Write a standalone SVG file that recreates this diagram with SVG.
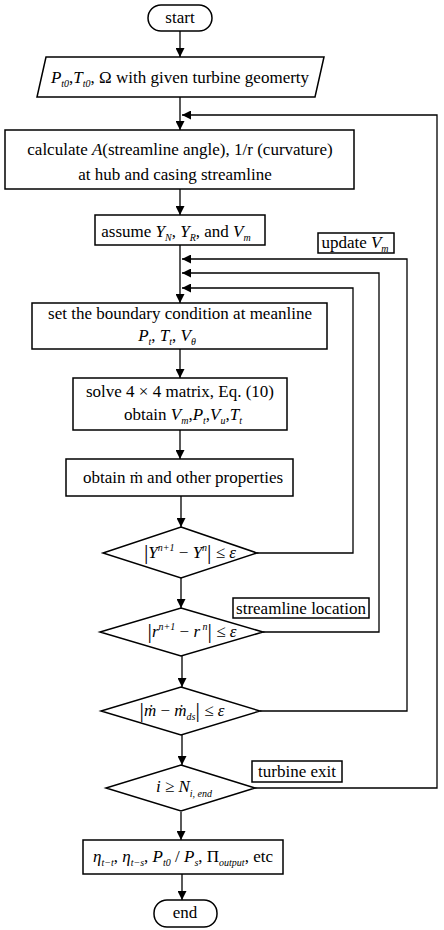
<svg xmlns="http://www.w3.org/2000/svg" width="444" height="930" viewBox="0 0 444 930">
<style>
  .box{fill:#fff;stroke:#000;stroke-width:1.5}
  .lbl{fill:#000;stroke:none;stroke-width:1.3}
  text{font-family:"Liberation Serif","Times New Roman",serif;font-size:17px;fill:#000}
  .m{text-anchor:middle}
  .i{font-style:italic}
  .s{font-size:10px;font-style:italic}
  .bar{font-size:22px}
  .con{fill:none;stroke:#000;stroke-width:1.3}
</style>
<defs>
  <marker id="ah" viewBox="0 0 10 10" refX="10" refY="5" markerWidth="9" markerHeight="9" markerUnits="userSpaceOnUse" orient="auto">
    <path d="M0,0 L10,5 L0,10 z" fill="#000"/>
  </marker>
</defs>
<rect width="444" height="930" fill="#fff"/>

<g id="connectors">
  <line class="con" x1="180" y1="31" x2="180" y2="57" marker-end="url(#ah)"/>
  <line class="con" x1="180" y1="97" x2="180" y2="130" marker-end="url(#ah)"/>
  <line class="con" x1="180" y1="189" x2="180" y2="215" marker-end="url(#ah)"/>
  <line class="con" x1="180" y1="245" x2="180" y2="303" marker-end="url(#ah)"/>
  <line class="con" x1="180" y1="349" x2="180" y2="378" marker-end="url(#ah)"/>
  <line class="con" x1="180" y1="430" x2="180" y2="459" marker-end="url(#ah)"/>
  <line class="con" x1="181" y1="496" x2="181" y2="527" marker-end="url(#ah)"/>
  <line class="con" x1="181" y1="578" x2="181" y2="608" marker-end="url(#ah)"/>
  <line class="con" x1="182" y1="656" x2="182" y2="687" marker-end="url(#ah)"/>
  <line class="con" x1="182" y1="735" x2="182" y2="765" marker-end="url(#ah)"/>
  <line class="con" x1="181" y1="812" x2="181" y2="840" marker-end="url(#ah)"/>
  <line class="con" x1="182" y1="874" x2="182" y2="900" marker-end="url(#ah)"/>
  <polyline class="con" points="257,553 353,553 353,288 182,288" marker-end="url(#ah)"/>
  <polyline class="con" points="263,632 379,632 379,273 182,273" marker-end="url(#ah)"/>
  <polyline class="con" points="260,711 407,711 407,259 182,259" marker-end="url(#ah)"/>
  <polyline class="con" points="255,788 437,788 437,115 182,115" marker-end="url(#ah)"/>
</g>

<g id="start">
  <rect class="box" x="148" y="5" width="64" height="26" rx="13"/>
  <text class="m" x="180" y="23">start</text>
</g>

<g id="input">
  <polygon class="box" points="46,57 324,57 315,97 37,97"/>
  <text class="m" x="180" y="83"><tspan class="i">P</tspan><tspan class="s" dy="4">t0</tspan><tspan dy="-4">,</tspan><tspan class="i">T</tspan><tspan class="s" dy="4">t0</tspan><tspan dy="-4">, Ω with given turbine geomerty</tspan></text>
</g>

<g id="calc">
  <rect class="box" x="5" y="130" width="349" height="59"/>
  <text class="m" x="180" y="155">calculate <tspan class="i">A</tspan>(streamline angle), 1/r (curvature)</text>
  <text class="m" x="175" y="180">at hub and casing streamline</text>
</g>

<g id="assume">
  <rect class="box" x="95" y="215" width="170" height="30"/>
  <text class="m" x="176" y="237">assume <tspan class="i">Y</tspan><tspan class="s" dy="4">N</tspan><tspan dy="-4">, </tspan><tspan class="i">Y</tspan><tspan class="s" dy="4">R</tspan><tspan dy="-4">, and </tspan><tspan class="i">V</tspan><tspan class="s" dy="4">m</tspan></text>
</g>

<g id="update">
  <rect class="box" x="318" y="233" width="76" height="20"/>
  <text class="m" x="355" y="248">update <tspan class="i">V</tspan><tspan class="s" dy="4">m</tspan></text>
</g>

<g id="boundary">
  <rect class="box" x="32" y="303" width="295" height="46"/>
  <text class="m" x="180" y="319">set the boundary condition at meanline</text>
  <text class="m" x="167" y="341"><tspan class="i">P</tspan><tspan class="s" dy="4">t</tspan><tspan dy="-4">, </tspan><tspan class="i">T</tspan><tspan class="s" dy="4">t</tspan><tspan dy="-4">, </tspan><tspan class="i">V</tspan><tspan class="s" dy="4">θ</tspan></text>
</g>

<g id="solve">
  <rect class="box" x="73" y="378" width="214" height="52"/>
  <text class="m" x="180" y="397">solve 4 × 4 matrix, Eq. (10)</text>
  <text class="m" x="183" y="420">obtain <tspan class="i">V</tspan><tspan class="s" dy="4">m</tspan><tspan dy="-4">,</tspan><tspan class="i">P</tspan><tspan class="s" dy="4">t</tspan><tspan dy="-4">,</tspan><tspan class="i">V</tspan><tspan class="s" dy="4">u</tspan><tspan dy="-4">,</tspan><tspan class="i">T</tspan><tspan class="s" dy="4">t</tspan></text>
</g>

<g id="obtain">
  <rect class="box" x="66" y="459" width="227" height="37"/>
  <text class="m" x="183" y="483">obtain ṁ and other properties</text>
</g>

<g id="check-y">
  <polygon class="box" points="181,527 257,553 181,578 103,553"/>
  <text class="m" x="190" y="558"><tspan class="bar" dy="1">|</tspan><tspan class="i" dy="-1">Y</tspan><tspan class="s" dy="-7">n+1</tspan><tspan dy="7"> − </tspan><tspan class="i">Y</tspan><tspan class="s" dy="-7">n</tspan><tspan class="bar" dy="8">|</tspan><tspan dy="-1"> ≤ </tspan><tspan class="i">ε</tspan></text>
</g>

<g id="check-r">
  <polygon class="box" points="181,608 263,632 181,656 100,632"/>
  <text class="m" x="192" y="637"><tspan class="bar" dy="1">|</tspan><tspan class="i" dy="-1">r</tspan><tspan class="s" dy="-7">n+1</tspan><tspan dy="7"> − </tspan><tspan class="i">r</tspan><tspan class="s" dy="-7"> n</tspan><tspan class="bar" dy="8">|</tspan><tspan dy="-1"> ≤ </tspan><tspan class="i">ε</tspan></text>
</g>

<g id="streamline-label">
  <rect class="box" x="233" y="598" width="136" height="20"/>
  <text class="m" x="301" y="614">streamline location</text>
</g>

<g id="check-m">
  <polygon class="box" points="181,687 260,711 181,735 101,711"/>
  <text class="m" x="182" y="716"><tspan class="bar" dy="1">|</tspan><tspan class="i" dy="-1">ṁ</tspan><tspan> − </tspan><tspan class="i">ṁ</tspan><tspan class="s" dy="4">ds</tspan><tspan class="bar" dy="-3">|</tspan><tspan dy="-1"> ≤ </tspan><tspan class="i">ε</tspan></text>
</g>

<g id="check-i">
  <polygon class="box" points="181,765 255,788 181,811 106,788"/>
  <text class="m" x="184" y="792"><tspan class="i">i</tspan> ≥ <tspan class="i">N</tspan><tspan class="s" dy="5">i, end</tspan></text>
</g>

<g id="turbine-exit-label">
  <rect class="box" x="252" y="761" width="90" height="21"/>
  <text class="m" x="297" y="777">turbine exit</text>
</g>

<g id="result">
  <rect class="box" x="83" y="840" width="200" height="34"/>
  <text class="m" x="183" y="862"><tspan class="i">η</tspan><tspan class="s" dy="4">t−t</tspan><tspan dy="-4">, </tspan><tspan class="i">η</tspan><tspan class="s" dy="4">t−s</tspan><tspan dy="-4">, </tspan><tspan class="i">P</tspan><tspan class="s" dy="4">t0</tspan><tspan dy="-4"> / </tspan><tspan class="i">P</tspan><tspan class="s" dy="4">s</tspan><tspan dy="-4">, Π</tspan><tspan class="s" dy="4">output</tspan><tspan dy="-4">, etc</tspan></text>
</g>

<g id="end">
  <rect class="box" x="154" y="900" width="63" height="27" rx="13"/>
  <text class="m" x="185" y="918">end</text>
</g>
</svg>
